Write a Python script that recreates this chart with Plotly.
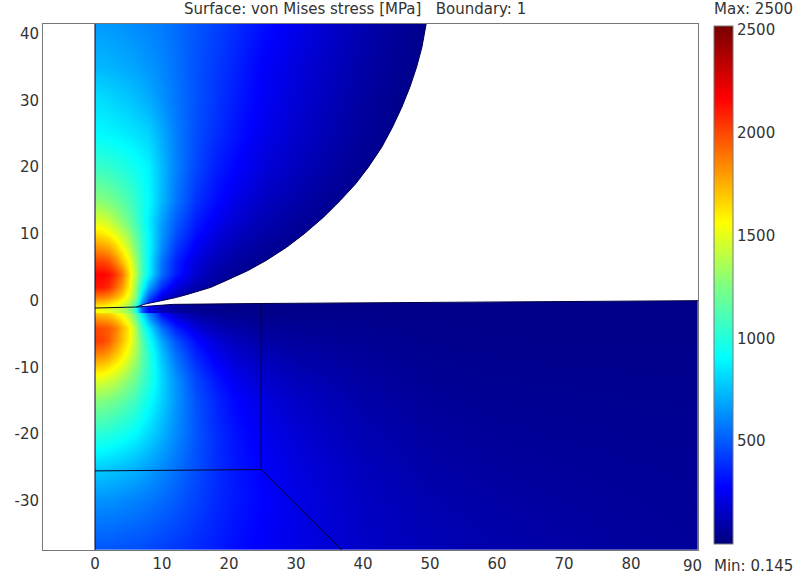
import plotly.graph_objects as go

FONT = "DejaVu Sans"
TXT = "#333333"

# Indenter (upper body) stress, MPa
upper_x = [0,1,2,3,4,5,6,7,8,10,12,15,18,21,25,30,35,40,45,50]
upper_y = [-1.1,0.5,2,4,6,8,10,12,15,20,25,30,35,41.6]
upper_z = [
 [1560,1540,1500,1450,1400,1300,1000,500,250,120,70,45,35,30,30,30,30,30,30,30],
 [1880,1870,1830,1760,1650,1500,1250,800,480,210,100,50,30,30,30,30,30,30,30,30],
 [2120,2110,2060,1950,1800,1600,1300,950,680,380,210,100,55,30,30,30,30,30,30,30],
 [2160,2160,2130,2050,1900,1640,1380,1100,880,540,340,170,90,50,30,30,30,30,30,30],
 [2010,2000,1960,1860,1720,1560,1330,1090,880,560,360,200,125,75,40,30,30,30,30,30],
 [1820,1800,1760,1680,1560,1420,1240,1060,900,620,420,255,165,110,65,30,30,30,30,30],
 [1640,1620,1580,1510,1420,1310,1170,1030,890,650,470,305,210,145,90,50,30,30,30,30],
 [1490,1470,1430,1370,1290,1200,1090,980,870,670,510,345,250,180,115,65,35,30,30,30],
 [1290,1280,1250,1210,1160,1100,1040,970,900,730,570,400,300,225,150,95,50,30,30,30],
 [1060,1055,1040,1020,1000,970,940,910,880,740,600,450,350,280,200,140,85,45,30,30],
 [900,898,890,880,870,855,840,820,800,700,590,470,390,320,235,170,110,60,30,30],
 [830,825,815,800,785,770,750,730,705,640,570,480,410,340,260,190,130,75,35,30],
 [735,730,725,715,705,695,680,665,650,610,560,480,420,360,270,205,145,90,50,30],
 [660,655,650,645,640,630,620,610,600,580,545,490,440,385,310,240,170,110,60,30],
]

# Lower body stress, MPa
lower_x = [0,1,2,3,4,5,6,7,8,10,12,15,18,21,25,30,35,40,50,60,70,80,90]
lower_y = [-37.2,-30,-25,-20,-15,-12,-10,-8,-6,-4,-2,-1.2,0]
lower_z = [
 [490,490,490,485,480,475,470,465,455,435,415,380,345,305,265,225,190,160,125,100,85,70,60],
 [640,635,630,625,615,605,595,585,570,540,500,440,380,330,280,225,185,150,105,85,72,62,55],
 [790,785,775,765,750,735,720,695,670,620,560,470,390,330,270,210,170,135,90,72,62,55,50],
 [1010,1005,990,970,950,920,890,850,810,720,620,490,390,315,245,190,150,115,75,60,52,48,45],
 [1270,1260,1240,1210,1170,1120,1070,1000,930,790,650,480,370,285,210,160,125,95,60,48,45,42,40],
 [1480,1470,1440,1400,1340,1270,1190,1090,1000,810,640,450,330,245,175,130,105,80,50,42,40,38,36],
 [1660,1650,1610,1550,1480,1380,1270,1140,1020,790,600,410,290,210,150,110,90,70,45,38,36,35,34],
 [1870,1850,1800,1720,1620,1500,1350,1180,1010,750,550,360,240,170,120,90,75,60,40,35,33,32,32],
 [2030,2010,1950,1840,1720,1580,1380,1150,950,680,480,300,190,130,90,70,60,50,35,32,30,30,30],
 [2000,1980,1950,1880,1750,1600,1350,1050,850,550,350,200,120,85,60,50,45,40,32,30,30,30,30],
 [1720,1700,1680,1620,1520,1380,1150,850,600,300,160,80,50,40,30,30,30,30,30,30,30,30,30],
 [1500,1480,1450,1400,1350,1250,1100,650,400,180,100,60,40,35,30,30,30,30,30,30,30,30,30],
 [1500,1480,1450,1400,1350,1250,1100,650,400,180,100,60,40,35,30,30,30,30,30,30,30,30,30],
]

# Indenter edge and lower surface
edge_x = [49.45,48.8,48.0,47.0,45.8,44.4,42.8,40.8,38.9,36.6,34.1,31.2,28.6,25.5,22.8,19.6,17.3,14.0,12.2,9.9,7.5,6.2]
edge_y = [41.6,38,35,32,29,26,23,20,17.5,15,12.5,10,8,6,4.5,3,2,1,0.5,0,-0.5,-0.95]
surf_x = [6.2,11.7,25,52,90]
surf_y = [-0.95,-0.55,-0.42,-0.28,0]
corner_x = [90,49.45]
corner_y = [41.6,41.6]
left_x = [-7.76,0,0,-7.76]
left_y = [-37.5,-37.5,41.6,41.6]

# Interior boundary lines
boundary_lines = [
    ([0,0],[41.6,-37.5]),
    ([0,6.2],[-1.1,-0.95]),
    ([24.8,24.8],[-0.42,-25.3]),
    ([0,24.8],[-25.5,-25.3]),
    ([24.8,37.0],[-25.3,-37.5]),
]

x_ticks = [0,10,20,30,40,50,60,70,80]
y_ticks = [-30,-20,-10,0,10,20,30,40]
bar_ticks = [500,1000,1500,2000,2500]

jet = [
 [0.0,"rgb(0,0,125)"],[0.11,"rgb(0,0,255)"],[0.36,"rgb(0,255,255)"],
 [0.50,"rgb(128,255,128)"],[0.62,"rgb(255,255,0)"],[0.86,"rgb(255,0,0)"],
 [1.0,"rgb(120,0,0)"],
]

fig = go.Figure()
fig.add_trace(go.Heatmap(x=lower_x, y=lower_y, z=lower_z, zsmooth="best",
                         coloraxis="coloraxis", hoverinfo="skip"))
fig.add_trace(go.Heatmap(x=upper_x, y=upper_y, z=upper_z, zsmooth="best",
                         coloraxis="coloraxis", hoverinfo="skip"))
fig.add_trace(go.Scatter(x=edge_x + surf_x[1:] + corner_x,
                         y=edge_y + surf_y[1:] + corner_y,
                         mode="none", fill="toself", fillcolor="white",
                         hoverinfo="skip", showlegend=False))
fig.add_trace(go.Scatter(x=left_x, y=left_y, mode="none", fill="toself", fillcolor="white",
                         hoverinfo="skip", showlegend=False))
fig.add_trace(go.Scatter(x=edge_x, y=edge_y, mode="lines",
                         line=dict(color="#000050", width=1),
                         hoverinfo="skip", showlegend=False))
fig.add_trace(go.Scatter(x=surf_x, y=surf_y, mode="lines",
                         line=dict(color="#000040", width=1),
                         hoverinfo="skip", showlegend=False))
for bx, by in boundary_lines:
    fig.add_trace(go.Scatter(x=bx, y=by, mode="lines",
                             line=dict(color="#06062a", width=1),
                             hoverinfo="skip", showlegend=False))

axis_common = dict(showgrid=False, zeroline=False, showline=True, mirror=True,
                   linecolor="#777777", linewidth=1, ticks="", tickmode="array",
                   tickfont=dict(family=FONT, size=15, color=TXT))
fig.update_xaxes(range=[-7.76,90], tickvals=x_ticks, ticktext=[str(v) for v in x_ticks], **axis_common)
fig.update_yaxes(range=[-37.35,41.45], tickvals=y_ticks, ticktext=[str(v) for v in y_ticks], **axis_common)

fig.update_layout(
    width=799, height=578, autosize=False,
    margin=dict(l=43, r=101, t=24, b=28, autoexpand=False),
    paper_bgcolor="white", plot_bgcolor="white", showlegend=False,
    coloraxis=dict(
        colorscale=jet, cmin=0, cmax=2520,
        colorbar=dict(
            thickness=19, thicknessmode="pixels", len=518, lenmode="pixels",
            x=1.0244, xanchor="left", xpad=0, y=0.9962, yanchor="top", ypad=0,
            tickmode="array", tickvals=bar_ticks, ticktext=[str(v) for v in bar_ticks],
            ticks="", ticklabelposition="outside",
            tickfont=dict(family=FONT, size=15, color=TXT),
            outlinecolor="#777777", outlinewidth=1,
        ),
    ),
    annotations=[
        dict(text="Surface: von Mises stress [MPa]   Boundary: 1", xref="paper", yref="paper",
             x=0.0, y=1, xshift=139, yshift=4, xanchor="left", yanchor="bottom", showarrow=False,
             font=dict(family=FONT, size=15, color=TXT)),
        dict(text="Max: 2500", xref="paper", yref="paper", x=1, y=1, xshift=14, yshift=4,
             xanchor="left", yanchor="bottom", showarrow=False,
             font=dict(family=FONT, size=15, color=TXT)),
        dict(text="Min: 0.145", xref="paper", yref="paper", x=1, y=0, xshift=14, yshift=-5,
             xanchor="left", yanchor="top", showarrow=False,
             font=dict(family=FONT, size=15, color=TXT)),
        dict(text="90", xref="paper", yref="paper", x=1, y=0, xshift=-6, yshift=-5,
             xanchor="center", yanchor="top", showarrow=False,
             font=dict(family=FONT, size=15, color=TXT)),
    ],
)
fig.write_html("out.html", post_script="document.body.style.margin='0';",
               config={"displayModeBar": False})
